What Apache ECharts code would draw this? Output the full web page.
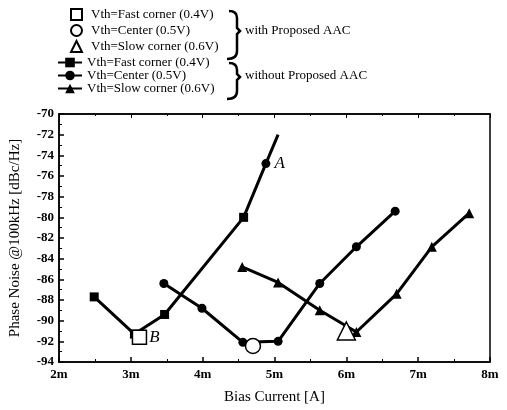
<!DOCTYPE html>
<html>
<head>
<meta charset="utf-8">
<script src="https://cdn.jsdelivr.net/npm/echarts@6/dist/echarts.min.js"></script>
<style>
  html, body { margin: 0; padding: 0; background: #fff; }
  #chart { width: 507px; height: 410px; }
</style>
</head>
<body>
<div id="chart"></div>
<script>
// without proposed AAC
var fastX = [2.49, 3.05, 3.47, 4.57, 4.88, 5.05];
var fastY = [-87.7, -91.3, -89.4, -80.0, -74.8, -72.0];
var fastNotes = ["", "", "", "", "A", ""];

var centerX = [3.46, 3.99, 4.56, 5.05, 5.63, 6.14, 6.68];
var centerY = [-86.4, -88.8, -92.1, -92.0, -86.4, -82.85, -79.4];

var slowX = [4.55, 5.05, 5.63, 6.14, 6.70, 7.19, 7.71];
var slowY = [-84.8, -86.3, -89.0, -91.1, -87.4, -82.85, -79.6];

// with proposed AAC
var aacFastX = [3.12], aacFastY = [-91.6];
var aacCenterX = [4.70], aacCenterY = [-92.45];
var aacSlowX = [6.0], aacSlowY = [-91.0];

var legendText = {
  f1: "Vth=Fast corner (0.4V)", c1: "Vth=Center (0.5V)", s1: "Vth=Slow corner (0.6V)",
  f0: "Vth=Fast corner (0.4V)", c0: "Vth=Center (0.5V)", s0: "Vth=Slow corner (0.6V)"
};

function pairs(xs, ys) {
  return xs.map(function (x, i) { return [x, ys[i]]; });
}

// fast-corner line: annotated point drawn as a dot, last point bare
var fastData = pairs(fastX, fastY).map(function (d, i) {
  var item = { value: d };
  if (fastNotes[i]) item.symbol = "circle";
  if (i === fastX.length - 1) item.symbol = "none";
  return item;
});

// curly bracket made of two hooks and a notched spine
function bracket(top, mid, bottom) {
  var st = { stroke: "#000", lineWidth: 2.5, fill: null };
  return [
    { type: "bezierCurve", shape: { x1: 229, y1: top, cpx1: 237, cpy1: top, x2: 237, y2: top + 7 }, style: st },
    { type: "polyline", shape: { points: [[237, top + 7], [237, mid - 3], [240, mid], [237, mid + 3], [237, bottom - 8]] }, style: st },
    { type: "bezierCurve", shape: { x1: 237, y1: bottom - 8, cpx1: 237, cpy1: bottom, x2: 227, y2: bottom }, style: st }
  ];
}

var serif = "Liberation Serif";
var chart = echarts.init(document.getElementById("chart"));

var lineBase = {
  type: "line",
  lineStyle: { color: "#000", width: 3 },
  itemStyle: { color: "#000" },
  showAllSymbol: true,
  z: 3
};
var openBase = {
  type: "scatter",
  itemStyle: { color: "#fff", borderColor: "#000", borderWidth: 1.5, opacity: 1 },
  z: 5
};

var option = {
  animation: false,
  textStyle: { fontFamily: serif },
  grid: { left: 57, right: 17, top: 114, bottom: 48, show: true, borderColor: "#000", borderWidth: 1.5 },
  legend: [
    {
      orient: "vertical", left: 65, top: 3, itemWidth: 11, itemHeight: 11, itemGap: 3,
      data: ["f1", "c1", "s1"],
      formatter: function (n) { return legendText[n]; },
      textStyle: { fontFamily: serif, fontSize: 13, color: "#000", padding: [0, 0, 0, 4] },
      selectedMode: false
    },
    {
      orient: "vertical", left: 52, top: 51, itemWidth: 24, itemHeight: 12, itemGap: 0,
      data: ["f0", "c0", "s0"],
      formatter: function (n) { return legendText[n]; },
      textStyle: { fontFamily: serif, fontSize: 13, color: "#000" },
      selectedMode: false
    }
  ],
  xAxis: [
    {
      type: "value", min: 2, max: 8, interval: 1,
      name: "Bias Current [A]", nameLocation: "middle", nameGap: 28,
      nameTextStyle: { fontFamily: serif, fontSize: 15, color: "#000" },
      axisLine: { lineStyle: { color: "#000", width: 1.5 } },
      axisTick: { inside: true, length: 5, lineStyle: { color: "#000", width: 1.5 } },
      minorTick: { show: true, splitNumber: 2, length: 3, lineStyle: { color: "#000" } },
      axisLabel: { formatter: function (v) { return v + "m"; }, fontFamily: serif, fontSize: 13, fontWeight: "bold", color: "#000", margin: 6 },
      splitLine: { show: false }
    },
    {
      type: "value", min: 2, max: 8, interval: 1, position: "top",
      axisLine: { lineStyle: { color: "#000", width: 1.5 } },
      axisTick: { inside: true, length: 4, lineStyle: { color: "#000" } },
      minorTick: { show: true, splitNumber: 2, length: 2, lineStyle: { color: "#000" } },
      axisLabel: { show: false },
      splitLine: { show: false }
    }
  ],
  yAxis: {
    type: "value", min: -94, max: -70, interval: 2,
    name: "Phase Noise @100kHz [dBc/Hz]", nameLocation: "middle", nameGap: 36,
    nameTextStyle: { fontFamily: serif, fontSize: 15, color: "#000" },
    axisLine: { lineStyle: { color: "#000", width: 1.5 } },
    axisTick: { inside: true, length: 5, lineStyle: { color: "#000", width: 1.5 } },
    minorTick: { show: true, splitNumber: 2, length: 3, lineStyle: { color: "#000" } },
    axisLabel: { fontFamily: serif, fontSize: 13, fontWeight: "bold", color: "#000", margin: 5 },
    splitLine: { show: false }
  },
  graphic: bracket(11, 31, 59).concat(bracket(63, 77, 99)).concat([
    { type: "text", left: 245, top: 24, style: { text: "with Proposed AAC", font: "13px " + serif, fill: "#000" } },
    { type: "text", left: 245, top: 69, style: { text: "without Proposed AAC", font: "13px " + serif, fill: "#000" } }
  ]),
  series: [
    Object.assign({}, lineBase, {
      name: "f0", data: fastData, symbol: "rect", symbolSize: 9,
      label: {
        show: true, position: "right", distance: 4,
        formatter: function (p) { return fastNotes[p.dataIndex]; },
        fontFamily: serif, fontStyle: "italic", fontSize: 17, color: "#000"
      }
    }),
    Object.assign({}, lineBase, { name: "c0", data: pairs(centerX, centerY), symbol: "circle", symbolSize: 9 }),
    Object.assign({}, lineBase, { name: "s0", data: pairs(slowX, slowY), symbol: "triangle", symbolSize: 10 }),
    Object.assign({}, openBase, {
      name: "f1", data: pairs(aacFastX, aacFastY), symbol: "rect", symbolSize: 14,
      label: { show: true, position: "right", distance: 2, formatter: "B", fontFamily: serif, fontStyle: "italic", fontSize: 17, color: "#000" }
    }),
    Object.assign({}, openBase, { name: "c1", data: pairs(aacCenterX, aacCenterY), symbol: "circle", symbolSize: 15 }),
    Object.assign({}, openBase, { name: "s1", data: pairs(aacSlowX, aacSlowY), symbol: "triangle", symbolSize: 18 })
  ]
};

chart.setOption(option);
</script>
</body>
</html>
